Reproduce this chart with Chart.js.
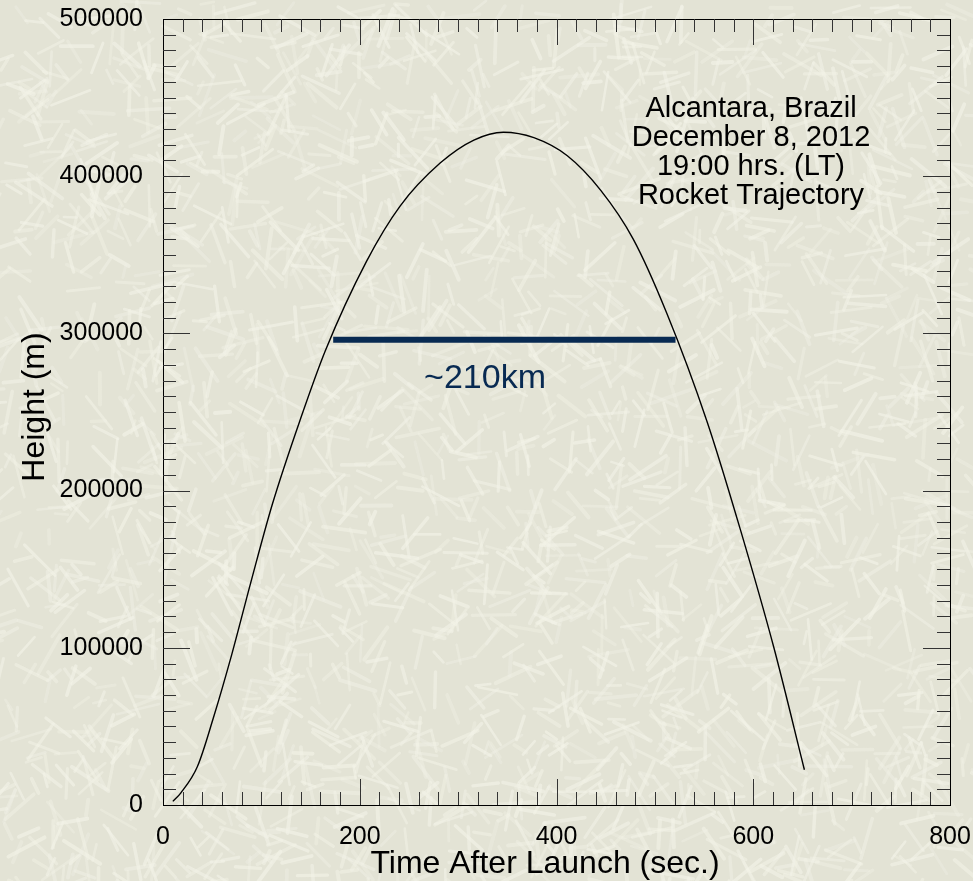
<!DOCTYPE html>
<html>
<head>
<meta charset="utf-8">
<title>Rocket Trajectory</title>
<script src="https://cdn.jsdelivr.net/npm/chart.js@4.4.1/dist/chart.umd.min.js"></script>
<style>
  html, body { margin: 0; padding: 0; }
  #wrap { position: relative; width: 973px; height: 881px; }
  #paper, #myChart { position: absolute; left: 0; top: 0; }
</style>
</head>
<body>
<div id="wrap">
  <canvas id="paper" width="973" height="881"></canvas>
  <canvas id="myChart" width="973" height="881"></canvas>
</div>
<script>
// trajectory samples: seconds after launch / height in metres
const time = [10, 18, 35, 51, 70, 89, 111, 140, 165, 207, 241, 282, 316, 346,
              377, 411, 445, 478, 512, 553, 587, 621, 652];
const height = [2300, 7600, 24500, 55000, 96000, 141000, 191000, 246000, 289000,
                346000, 381000, 408500, 423000, 428000, 424500, 413000, 391000,
                360000, 313000, 244000, 175000, 100000, 22400];

// ~210 km horizontal span marker
const spanTime = [173, 521];
const spanHeight = [296000, 296000];
const spanLabel = '~210km';

const xTicks = [0, 200, 400, 600, 800];
const yTicks = [0, 100000, 200000, 300000, 400000, 500000];
const xMinorStep = 20;
const yMinorStep = 10000;

const infoLines = ['Alcantara, Brazil', 'December 8, 2012', '19:00 hrs. (LT)', 'Rocket Trajectory'];

const FONT = "'Liberation Sans', Arial, sans-serif";
const NAVY = '#082a52';

// paper-like backdrop with light fibres
(function paintPaper() {
    const cv = document.getElementById('paper');
    const g = cv.getContext('2d');
    g.fillStyle = '#e3e3d5';
    g.fillRect(0, 0, cv.width, cv.height);
    let seed = 12345;
    const rnd = () => (seed = (seed * 16807) % 2147483647) / 2147483647;
    g.lineCap = 'round';
    for (let i = 0; i < 2800; i++) {
        const x = rnd() * cv.width;
        const y = rnd() * cv.height;
        const a = rnd() * Math.PI;
        const len = 12 + rnd() * 32;
        g.strokeStyle = 'rgba(243,243,232,' + (0.3 + rnd() * 0.35).toFixed(2) + ')';
        g.lineWidth = 2.5 + rnd() * 1.5;
        g.beginPath();
        g.moveTo(x, y);
        g.lineTo(x + Math.cos(a) * len, y + Math.sin(a) * len);
        g.stroke();
    }
})();

// box frame with inward ticks on all four sides, plus the text overlays
const frameTicks = {
    id: 'frameTicks',
    afterDatasetsDraw(chart) {
        const { ctx, chartArea: a, scales: { x, y } } = chart;
        ctx.save();
        ctx.strokeStyle = '#000';
        ctx.lineWidth = 1;
        ctx.strokeRect(Math.round(a.left) + 0.5, Math.round(a.top) + 0.5,
                       Math.round(a.right - a.left), Math.round(a.bottom - a.top));

        ctx.strokeStyle = '#333';
        ctx.beginPath();
        for (let v = x.min + xMinorStep; v < x.max; v += xMinorStep) {
            const px = Math.round(x.getPixelForValue(v)) + 0.5;
            const len = xTicks.includes(v) ? 26 : 13;
            ctx.moveTo(px, a.bottom); ctx.lineTo(px, a.bottom - len);
            ctx.moveTo(px, a.top); ctx.lineTo(px, a.top + len);
        }
        for (let v = y.min + yMinorStep; v < y.max; v += yMinorStep) {
            const py = Math.round(y.getPixelForValue(v)) + 0.5;
            const len = yTicks.includes(v) ? 27 : 13;
            ctx.moveTo(a.left, py); ctx.lineTo(a.left + len, py);
            ctx.moveTo(a.right, py); ctx.lineTo(a.right - len, py);
        }
        ctx.stroke();

        ctx.fillStyle = '#000';
        ctx.textAlign = 'center';
        ctx.textBaseline = 'middle';

        ctx.font = '32px ' + FONT;
        ctx.fillText('Time After Launch (sec.)', 545, 864);
        ctx.save();
        ctx.translate(35, 407);
        ctx.rotate(-Math.PI / 2);
        ctx.fillText('Height (m)', 0, 0);
        ctx.restore();

        ctx.font = '29px ' + FONT;
        infoLines.forEach((t, i) => ctx.fillText(t, 751, 109 + i * 29));

        ctx.fillStyle = NAVY;
        ctx.font = '34px ' + FONT;
        ctx.fillText(spanLabel, 485, y.getPixelForValue(spanHeight[0]) + 39);
        ctx.restore();
    }
};

const ctx = document.getElementById('myChart').getContext('2d');

const data = {
    datasets: [
        {
            data: time.map((t, i) => ({ x: t, y: height[i] })),
            borderColor: '#000',
            borderWidth: 1.4,
            pointRadius: 0,
            cubicInterpolationMode: 'monotone',
            fill: false
        },
        {
            data: spanTime.map((t, i) => ({ x: t, y: spanHeight[i] })),
            borderColor: NAVY,
            borderWidth: 6,
            borderCapStyle: 'butt',
            pointRadius: 0,
            fill: false
        }
    ]
};

const tickFont = { family: FONT, size: 25 };

const config = {
    type: 'line',
    data: data,
    options: {
        responsive: false,
        animation: false,
        layout: { padding: { top: 19, right: 23, left: 0, bottom: 0 } },
        plugins: {
            legend: { display: false },
            tooltip: { enabled: false }
        },
        scales: {
            x: {
                type: 'linear',
                min: 0,
                max: 800,
                grid: { display: false },
                border: { display: false },
                ticks: {
                    stepSize: 200,
                    padding: 9,
                    color: '#000',
                    font: tickFont,
                    maxRotation: 0,
                    callback: v => xTicks.includes(v) ? String(v) : ''
                },
                afterFit: s => {
                    s.height = 76;
                    s.paddingLeft = 0;
                    s.paddingRight = 0;
                }
            },
            y: {
                min: 0,
                max: 500000,
                grid: { display: false },
                border: { display: false },
                ticks: {
                    stepSize: 100000,
                    padding: 12,
                    color: '#000',
                    font: tickFont,
                    callback: v => yTicks.includes(v) ? String(v) : ''
                },
                afterFit: s => {
                    s.width = 163;
                    s.paddingTop = 0;
                    s.paddingBottom = 0;
                }
            }
        }
    },
    plugins: [frameTicks]
};

const myChart = new Chart(ctx, config);
</script>
</body>
</html>
